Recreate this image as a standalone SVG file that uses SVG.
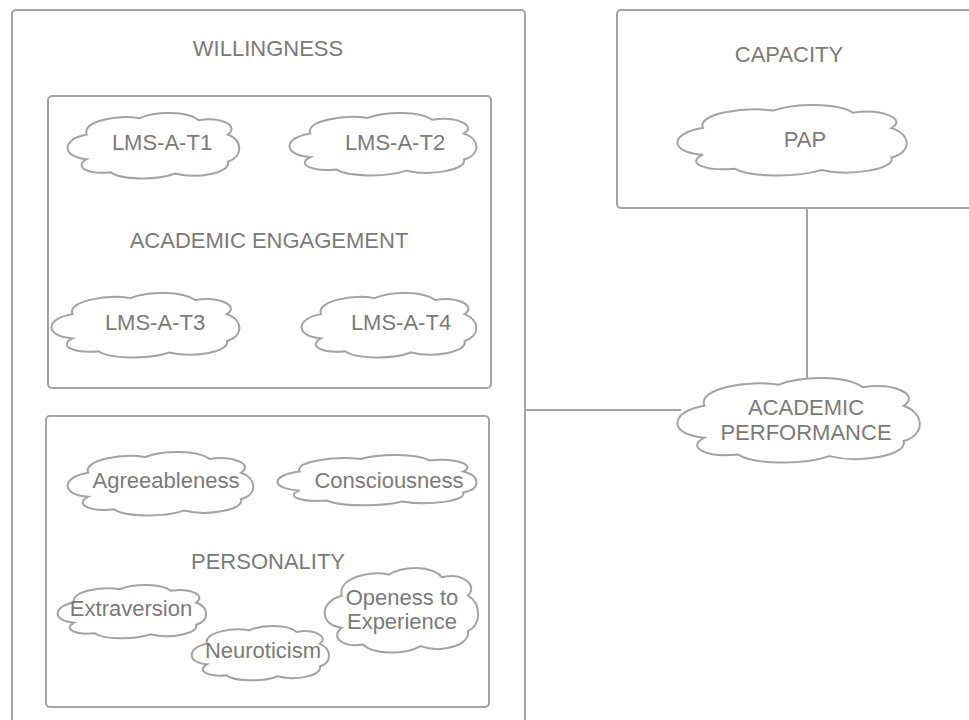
<svg xmlns="http://www.w3.org/2000/svg" xmlns:xlink="http://www.w3.org/1999/xlink" width="969" height="720" viewBox="0 0 969 720">
  <style>
    .box { fill: #ffffff; stroke: #a3a3a3; stroke-width: 2; }
    .cloud { fill: #ffffff; stroke: #a3a3a3; stroke-width: 2; }
    .lbl { font-family: "Liberation Sans", Arial, sans-serif; font-size: 22px; fill: #7a7a7a; text-anchor: middle; }
    .conn { stroke: #a3a3a3; stroke-width: 2; fill: none; }
  </style>
  <defs>
    <!-- generic cloud outline in a 100x100 box, stretched per node -->
    <symbol id="cloud" viewBox="0 0 100 100" preserveAspectRatio="none" overflow="visible">
      <path vector-effect="non-scaling-stroke" d="M 11,33 C 8,12 30,2 42,8 C 52,-3 70,-3 77,11 C 90,5 101,20 94,33 C 103,42 103,68 94,75 C 96,92 76,102 63,93 C 52,104 31,103 25,91 C 12,95 3,83 11,71 C -4,68 -4,40 11,33 Z"/>
    </symbol>
  </defs>

  <g id="willingness">
    <rect class="box" x="12" y="10" width="513" height="720" rx="4"/>
    <text class="lbl" x="268" y="56">WILLINGNESS</text>
  </g>

  <g id="academic-engagement">
    <rect class="box" x="48" y="96" width="443" height="292" rx="4"/>
    <text class="lbl" x="269" y="248">ACADEMIC ENGAGEMENT</text>
  </g>

  <g id="lms-a-t1">
    <use href="#cloud" class="cloud" x="68" y="113" width="170" height="65"/>
    <text class="lbl" x="162" y="150">LMS-A-T1</text>
  </g>
  <g id="lms-a-t2">
    <use href="#cloud" class="cloud" x="290" y="113" width="185" height="62"/>
    <text class="lbl" x="395" y="150">LMS-A-T2</text>
  </g>
  <g id="lms-a-t3">
    <use href="#cloud" class="cloud" x="52" y="293" width="186" height="64"/>
    <text class="lbl" x="155" y="330">LMS-A-T3</text>
  </g>
  <g id="lms-a-t4">
    <use href="#cloud" class="cloud" x="302" y="293" width="173" height="64"/>
    <text class="lbl" x="401" y="330">LMS-A-T4</text>
  </g>

  <g id="personality">
    <rect class="box" x="46" y="416" width="443" height="291" rx="4"/>
    <text class="lbl" x="268" y="569">PERSONALITY</text>
  </g>

  <g id="agreeableness">
    <use href="#cloud" class="cloud" x="68" y="452" width="184" height="63"/>
    <text class="lbl" x="166" y="488">Agreeableness</text>
  </g>
  <g id="consciousness">
    <use href="#cloud" class="cloud" x="278" y="455" width="197" height="50"/>
    <text class="lbl" x="389" y="488">Consciousness</text>
  </g>
  <g id="extraversion">
    <use href="#cloud" class="cloud" x="58" y="585" width="147" height="53"/>
    <text class="lbl" x="131" y="616">Extraversion</text>
  </g>
  <g id="neuroticism">
    <use href="#cloud" class="cloud" x="192" y="626" width="136" height="54"/>
    <text class="lbl" x="263" y="658">Neuroticism</text>
  </g>
  <g id="openess">
    <use href="#cloud" class="cloud" x="325" y="568" width="152" height="84"/>
    <text class="lbl" x="402" y="605">Openess to</text>
    <text class="lbl" x="402" y="629">Experience</text>
  </g>

  <g id="capacity">
    <rect class="box" x="617" y="10" width="360" height="198" rx="4"/>
    <text class="lbl" x="789" y="62">CAPACITY</text>
  </g>
  <g id="pap">
    <use href="#cloud" class="cloud" x="678" y="105" width="227" height="70"/>
    <text class="lbl" x="805" y="147">PAP</text>
  </g>

  <g id="connectors">
    <line class="conn" x1="525" y1="410" x2="681" y2="410"/>
    <line class="conn" x1="807" y1="208" x2="807" y2="381"/>
  </g>

  <g id="academic-performance">
    <use href="#cloud" class="cloud" x="678" y="378" width="240" height="84"/>
    <text class="lbl" x="806" y="415">ACADEMIC</text>
    <text class="lbl" x="806" y="440">PERFORMANCE</text>
  </g>
</svg>
